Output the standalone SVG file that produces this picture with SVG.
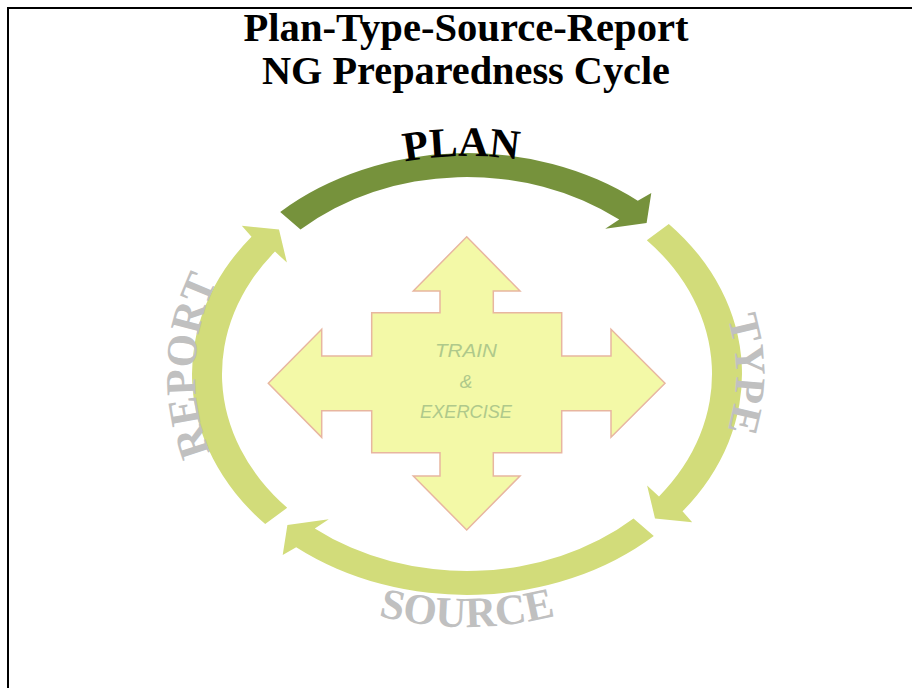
<svg xmlns="http://www.w3.org/2000/svg" width="912" height="688" viewBox="0 0 912 688">
  <style>
    .title { font-family: "Liberation Serif", "Times New Roman", serif; font-weight: bold; font-size: 39px; fill: #000; text-anchor: middle; }
    .stage { font-family: "Liberation Serif", "Times New Roman", serif; font-weight: bold; text-anchor: middle; }
    .stage-main { fill: #000; font-size: 42px; }
    .stage-sub { fill: #c0c0c0; font-size: 43px; }
    .arc-dark { fill: #76923c; }
    .arc-light { fill: #d2dc7a; }
    .cross { fill: #f3f9a7; stroke: #e8b6a0; stroke-width: 1.5; stroke-linejoin: miter; }
    .cross-text { font-family: "Liberation Sans", Arial, sans-serif; font-style: italic; font-size: 19px; fill: #afc98b; text-anchor: middle; }
  </style>
  <defs>
    <!-- baselines for the curved stage labels, all around the ring centre (467,374) -->
    <path id="path-plan" d="M 195 374 A 272 218 0 0 1 739 374"/>
    <path id="path-type" d="M 467 150 A 269 224 0 0 1 467 598"/>
    <path id="path-report" d="M 467 610 A 272 236 0 0 1 467 138"/>
    <path id="path-source" d="M 167 374 A 300 253 0 0 0 767 374"/>
  </defs>

  <rect width="912" height="688" fill="#fff"/>
  <!-- frame: open at right and bottom -->
  <path d="M 8 688 L 8 8 L 912 8" fill="none" stroke="#000" stroke-width="2"/>

  <g id="title">
    <text class="title" x="466" y="41" textLength="445" lengthAdjust="spacingAndGlyphs">Plan-Type-Source-Report</text>
    <text class="title" x="466" y="84" textLength="408" lengthAdjust="spacingAndGlyphs">NG Preparedness Cycle</text>
  </g>

  <!-- four curved arrows of the cycle: outer arc, head, inner arc back to the tail -->
  <g id="connectors">
    <path id="arrow-plan" class="arc-dark" d="M 280.2 211.9 A 275 221 0 0 1 637.8 200.8 L 651.3 192.9 L 646.6 222.9 L 605.2 228.8 L 619.2 219.6 A 245 197 0 0 0 300.5 229.5 Z"/>
    <path id="arrow-type" class="arc-light" d="M 668.8 223.9 A 275 221 0 0 1 682.5 511.3 L 692.2 522.2 L 655.0 518.4 L 647.1 485.4 L 659.0 496.4 A 245 197 0 0 0 646.8 240.2 Z"/>
    <path id="arrow-source" class="arc-light" d="M 653.8 536.1 A 275 221 0 0 1 296.2 547.2 L 282.7 555.1 L 287.4 525.1 L 328.8 519.2 L 314.8 528.4 A 245 197 0 0 0 633.5 518.5 Z"/>
    <path id="arrow-report" class="arc-light" d="M 265.2 524.1 A 275 221 0 0 1 251.5 236.7 L 241.8 225.8 L 279.0 229.6 L 286.9 262.6 L 275.0 251.6 A 245 197 0 0 0 287.2 507.8 Z"/>
  </g>

  <g id="node-plan">
    <text class="stage stage-main"><textPath href="#path-plan" startOffset="49.3%">PLAN</textPath></text>
  </g>
  <g id="node-type">
    <text class="stage stage-sub"><textPath href="#path-type" startOffset="50%">TYPE</textPath></text>
  </g>
  <g id="node-source">
    <text class="stage stage-sub"><textPath href="#path-source" startOffset="50%">SOURCE</textPath></text>
  </g>
  <g id="node-report">
    <text class="stage stage-sub"><textPath href="#path-report" startOffset="51%">REPORT</textPath></text>
  </g>

  <g id="node-train-exercise">
    <polygon class="cross" points="466.7,236.7 520,291 493.3,291 493.3,312.7 561.7,312.7 561.7,356 611,356 611,329.3 665,383.3 611,437.3 611,410.7 561.7,410.7 561.7,452.7 493.3,452.7 493.3,476 520,476 466.7,530 413.3,476 440,476 440,452.7 371.7,452.7 371.7,410.7 321.7,410.7 321.7,437.3 268.3,383.3 321.7,329.3 321.7,356 371.7,356 371.7,312.7 440,312.7 440,291 413.3,291"/>
    <text class="cross-text" x="466" y="357" textLength="62" lengthAdjust="spacingAndGlyphs">TRAIN</text>
    <text class="cross-text" x="466" y="388">&amp;</text>
    <text class="cross-text" x="466" y="418" textLength="92" lengthAdjust="spacingAndGlyphs">EXERCISE</text>
  </g>
</svg>
